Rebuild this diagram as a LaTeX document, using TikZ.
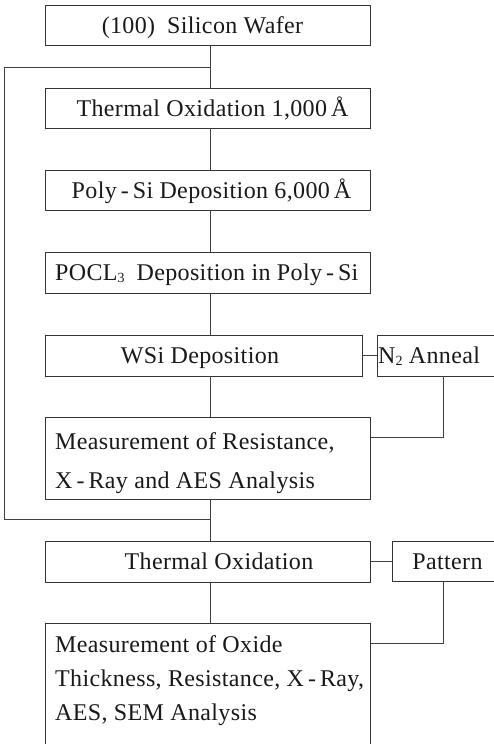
\documentclass[tikz,border=0pt]{standalone}
\usepackage{fontspec}
\setmainfont{Liberation Serif}[LetterSpace=1.5]
\newcommand{\subsc}[1]{\raisebox{-0.22ex}{\fontsize{14}{14}\selectfont #1}}
\begin{document}
\begin{tikzpicture}[x=1pt,y=-1pt,
  box/.style={draw=black!80, line width=0.8pt, inner sep=0pt},
  conn/.style={draw=black!75, line width=0.7pt},
  txt/.style={font=\fontsize{24}{28}\selectfont, inner sep=0pt, text=black!90}]
\useasboundingbox (0,0) rectangle (494,744);
\clip (0,0) rectangle (494,744);
% boxes
\node[box, minimum width=325pt, minimum height=40pt] (b1) at (208,25) {};
\node[box, minimum width=325pt, minimum height=40pt] (b2) at (208,108) {};
\node[box, minimum width=325pt, minimum height=40pt] (b3) at (208,190) {};
\node[box, minimum width=325pt, minimum height=41pt] (b4) at (208,272.5) {};
\node[box, minimum width=316.5pt, minimum height=41pt] (b5) at (203.75,355.5) {};
\node[box, minimum width=153pt, minimum height=41pt] (n2) at (453.5,355.5) {};
\node[box, minimum width=325pt, minimum height=82pt] (b6) at (208,458) {};
\node[box, minimum width=325pt, minimum height=41pt] (b7) at (208,561.5) {};
\node[box, minimum width=138pt, minimum height=40pt] (pat) at (461,561.5) {};
\node[box, minimum width=325pt, minimum height=177pt] (b8) at (208,711.5) {};
% texts
\node[txt, anchor=base] (t1) at (202.5,33.5) {(100)\hspace{12pt}Silicon Wafer};
\node[txt, anchor=base] (t2) at (212.5,116) {Thermal Oxidation 1,000\,Å};
\node[txt, anchor=base] (t3) at (211.5,198) {Poly\,-\,Si Deposition 6,000\,Å};
\node[txt, anchor=base west] (t4) at (55,280.5) {POCL\subsc{3}\hspace{12pt}Deposition in Poly\,-\,Si};
\node[txt, anchor=base] (t5) at (200,363.5) {WSi Deposition};
\node[txt, anchor=base west] (tn2) at (378,363.5) {N\subsc{2} Anneal};
\node[txt, anchor=base west] (t6a) at (55,449) {Measurement of Resistance,};
\node[txt, anchor=base west] (t6b) at (55,488) {X\,-\,Ray and AES Analysis};
\node[txt, anchor=base] (t7) at (219,569.5) {Thermal Oxidation};
\node[txt, anchor=base] (tpat) at (447.5,569.5) {Pattern};
\node[txt, anchor=base west] (t8a) at (55,652) {Measurement of Oxide};
\node[txt, anchor=base west] (t8b) at (55,686) {Thickness, Resistance, X\,-\,Ray,};
\node[txt, anchor=base west] (t8c) at (55,720) {AES, SEM Analysis};
% connectors
\coordinate (sp) at (210,0);
\coordinate (lt) at (4.5,67);
\coordinate (lb) at (4.5,519);
\coordinate (j6) at (443,437);
\coordinate (j8) at (443,643);
\draw[conn] (b1.south -| sp) -- (b2.north -| sp);
\draw[conn] (b2.south -| sp) -- (b3.north -| sp);
\draw[conn] (b3.south -| sp) -- (b4.north -| sp);
\draw[conn] (b4.south -| sp) -- (b5.north -| sp);
\draw[conn] (b5.south -| sp) -- (b6.north -| sp);
\draw[conn] (b6.south -| sp) -- (b7.north -| sp);
\draw[conn] (b7.south -| sp) -- (b8.north -| sp);
\draw[conn] (lt -| sp) -- (lt) -- (lb) -- (lb -| sp);
\draw[conn] (b5.east) -- (n2.west);
\draw[conn] (n2.south -| j6) -- (j6) -- (b6.east |- j6);
\draw[conn] (b7.east) -- (pat.west);
\draw[conn] (pat.south -| j8) -- (j8) -- (b8.east |- j8);
\end{tikzpicture}
\end{document}
